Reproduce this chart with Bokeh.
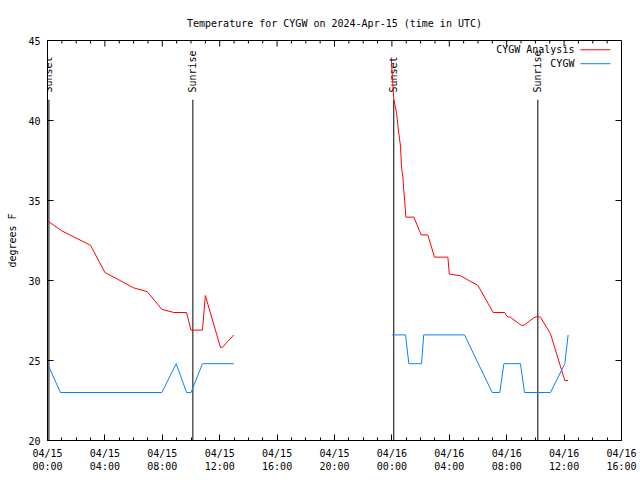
import math
from bokeh.plotting import figure
from bokeh.models import Range1d, FixedTicker, Label, ColumnDataSource
from bokeh.core.properties import value
from bokeh.embed import file_html
from bokeh.resources import INLINE

nan = float("nan")

title_text = "Temperature for CYGW on 2024-Apr-15 (time in UTC)"
y_label = "degrees F"

x_tick_hours = [0, 4, 8, 12, 16, 20, 24, 28, 32, 36, 40]
x_tick_labels = ["04/15\n00:00", "04/15\n04:00", "04/15\n08:00", "04/15\n12:00",
                 "04/15\n16:00", "04/15\n20:00", "04/16\n00:00", "04/16\n04:00",
                 "04/16\n08:00", "04/16\n12:00", "04/16\n16:00"]
x_minor_hours = list(range(0, 41))
y_ticks = [20, 25, 30, 35, 40, 45]

# CYGW Analysis (red)
analysis_hours = [0.05, 1.0, 3.0, 4.0, 4.85, 5.97, 6.95, 7.97, 8.8, 9.69, 10.0, 10.8,
                  11.0, 12.05, 12.2, 12.98, nan,
                  23.97, 24.13, 24.32, 24.48, 24.6, 24.67, 24.76, 24.83, 24.9, 24.97,
                  25.53, 25.88, 26.04, 26.5, 26.97, 27.9, 28.0, 28.78, 29.36, 29.99,
                  31.06, 31.85, 32.03, 32.26, 33.01, 33.2, 33.89, 34.12, 34.36, 35.05,
                  36.05, 36.28]
analysis_temps = [33.7, 33.1, 32.2, 30.5, 30.1, 29.55, 29.3, 28.2, 28.0, 28.0, 26.9, 26.9,
                  29.06, 25.83, 25.83, 26.6, nan,
                  43.7, 41.35, 40.5, 39.2, 38.4, 37.1, 36.5, 35.6, 34.9, 33.96,
                  33.96, 33.2, 32.85, 32.85, 31.46, 31.46, 30.4, 30.3, 30.0, 29.7,
                  28.0, 28.0, 27.75, 27.7, 27.2, 27.2, 27.67, 27.75, 27.7, 26.67,
                  23.75, 23.75]

# CYGW observations (blue)
obs_hours = [0.05, 0.9, 7.97, 8.97, 9.69, 10.0, 10.8, 12.98, nan,
             24.02, 24.95, 25.18, 26.06, 26.22, 29.06, 30.99, 31.52, 31.8, 32.96,
             33.24, 35.05, 36.05, 36.28]
obs_temps = [24.7, 23.0, 23.0, 24.8, 23.0, 23.0, 24.8, 24.8, nan,
             26.6, 26.6, 24.8, 24.8, 26.6, 26.6, 23.0, 23.0, 24.8, 24.8,
             23.0, 23.0, 24.8, 26.6]

sun_hours = [0.1, 10.13, 24.13, 34.17]
sun_labels = ["Sunset", "Sunrise", "Sunset", "Sunrise"]

series_names = ["CYGW Analysis", "CYGW"]
series_colors = ["#ff0000", "#0a80ff"]

FONT = "DejaVu Sans Mono"
FS = "10px"
X0, X1 = 0, 40
Y0, Y1 = 20, 45

p = figure(frame_width=574, frame_height=400,
           min_border_left=47, min_border_right=17, min_border_top=40, min_border_bottom=36,
           x_range=Range1d(X0, X1), y_range=Range1d(Y0, Y1),
           output_backend="svg", toolbar_location=None,
           background_fill_color="white", border_fill_color="white")

p.title.text = title_text
p.title.align = "center"
p.title.text_font = FONT
p.title.text_font_size = FS
p.title.text_font_style = "normal"
p.title.text_color = "black"
p.title.standoff = 23

p.grid.visible = False
p.outline_line_color = "black"
p.outline_line_width = 1

xt = FixedTicker(ticks=x_tick_hours, minor_ticks=x_minor_hours)
yt = FixedTicker(ticks=y_ticks, minor_ticks=[])

for ax in (p.xaxis[0], p.yaxis[0]):
    ax.axis_line_color = "black"
    ax.major_tick_in = 6
    ax.major_tick_out = 0
    ax.minor_tick_in = 3
    ax.minor_tick_out = 0
    ax.major_tick_line_color = "black"
    ax.minor_tick_line_color = "black"
    ax.major_label_text_font = FONT
    ax.major_label_text_font_size = FS
    ax.major_label_text_color = "black"
    ax.major_label_standoff = 7
    ax.axis_label_text_font = FONT
    ax.axis_label_text_font_size = FS
    ax.axis_label_text_font_style = "normal"
    ax.axis_label_text_color = "black"

p.xaxis.ticker = xt
p.xaxis.major_label_overrides = dict(zip(x_tick_hours, x_tick_labels))
p.yaxis.ticker = yt
p.yaxis.axis_label = y_label
p.yaxis.axis_label_standoff = 7

# mirrored (inward) ticks on the top and right edges, gnuplot style
px_per_hour = 574 / (X1 - X0)
px_per_deg = 400 / (Y1 - Y0)
minor_only = [h for h in x_minor_hours if h not in x_tick_hours]
p.segment(x0=x_tick_hours, y0=[Y1] * len(x_tick_hours), x1=x_tick_hours,
          y1=[Y1 - 6 / px_per_deg] * len(x_tick_hours), line_color="black", line_width=1)
p.segment(x0=minor_only, y0=[Y1] * len(minor_only), x1=minor_only,
          y1=[Y1 - 3 / px_per_deg] * len(minor_only), line_color="black", line_width=1)
p.segment(x0=[X1] * len(y_ticks), y0=y_ticks, x1=[X1 - 6 / px_per_hour] * len(y_ticks),
          y1=y_ticks, line_color="black", line_width=1)

# sunrise / sunset markers
sun_src = ColumnDataSource(dict(x=sun_hours, y0=[Y0] * len(sun_hours),
                                y1=[41.3] * len(sun_hours), ty=[41.75] * len(sun_hours),
                                label=sun_labels))
p.segment(x0="x", y0="y0", x1="x", y1="y1", source=sun_src, line_color="black", line_width=1)
p.text(x="x", y="ty", text="label", source=sun_src, angle=math.pi / 2,
       text_align="left", text_baseline="middle", text_font=value(FONT),
       text_font_size=value(FS), text_color="black")

# series
p.line(analysis_hours, analysis_temps, line_color=series_colors[0], line_width=1)
p.line(obs_hours, obs_temps, line_color=series_colors[1], line_width=1)

# gnuplot-style key (text right-aligned, sample line after it)
key_text_x = 36.72
key_line_x0 = 37.14
key_line_x1 = 39.23
key_ys = [44.42, 43.55]
for name, ky in zip(series_names, key_ys):
    p.add_layout(Label(x=key_text_x, y=ky, text=name, text_align="right",
                       text_baseline="middle", text_font=FONT, text_font_size=FS,
                       text_color="black"))
p.segment(x0=[key_line_x0] * 2, y0=key_ys, x1=[key_line_x1] * 2, y1=key_ys,
          line_color=series_colors, line_width=1)

open("out.html", "w").write(file_html(p, INLINE))
